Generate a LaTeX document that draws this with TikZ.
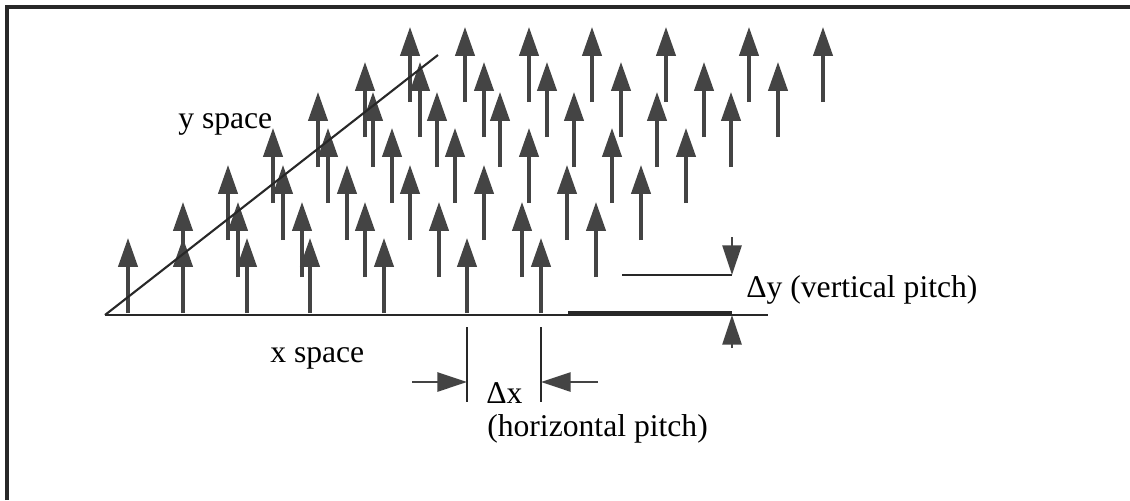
\documentclass[tikz,border=0pt]{standalone}
\usepackage{fontspec}
\setmainfont{Liberation Serif}
\usetikzlibrary{arrows.meta}
\begin{document}
\begin{tikzpicture}[x=0.025cm,y=-0.025cm]
\definecolor{arrowgray}{RGB}{68,68,68}
\definecolor{linegray}{RGB}{40,40,40}
\tikzset{
  vec/.style={arrowgray, line width=2.3pt, -{Triangle[length=0.72cm,width=0.48cm]}},
  pitchline/.style={linegray, line width=1.5pt},
  pitcharrow/.style={arrowgray, line width=1.4pt, -{Triangle[length=0.74cm,width=0.48cm]}},
  lbl/.style={font=\fontsize{22.5}{26}\selectfont, inner sep=0pt, anchor=base west}
}
\useasboundingbox (0,0) rectangle (1130,500);
\draw[linegray, line width=2.2pt] (7,500) -- (7,7) -- (1130,7);
\foreach \off/\tip in {0/238,55/202,100/165,145/128,190/92,237/62,282/27}
  \foreach \c in {128,183,247,310,384,467,541}
    \draw[vec] ({\c+\off},{\tip+75}) -- ({\c+\off},\tip);
\coordinate (o) at (105,315);
\coordinate (yend) at (438,55);
\coordinate (xend) at (768,315);
\draw[pitchline] (o) -- (yend);
\draw[pitchline] (o) -- (xend);
\coordinate (bar) at (568,313);
\coordinate (dyb) at (732,313);
\draw[linegray, line width=3pt] (bar) -- (dyb);
\coordinate (dyt) at (732,275);
\coordinate (dyl) at (622,275);
\draw[pitchline] (dyl) -- (dyt);
\draw[pitcharrow] (732,237) -- (dyt);
\draw[pitcharrow] (732,348) -- (732,315);
\coordinate (dxa) at (467,327);
\coordinate (dxb) at (541,327);
\draw[pitchline] (dxa) -- ++(0,75);
\draw[pitchline] (dxb) -- ++(0,75);
\draw[pitcharrow] (412,382) -- (467,382);
\draw[pitcharrow] (598,382) -- (541,382);
\node[lbl] (yspace) at (178,128) {y space};
\node[lbl] (xspace) at (270,362) {x space};
\node[lbl] (dx) at (486,403) {Δx};
\node[lbl] (dxtext) at (487,436) {(horizontal pitch)};
\node[lbl] (dy) at (746,297) {Δy (vertical pitch)};
\end{tikzpicture}
\end{document}
